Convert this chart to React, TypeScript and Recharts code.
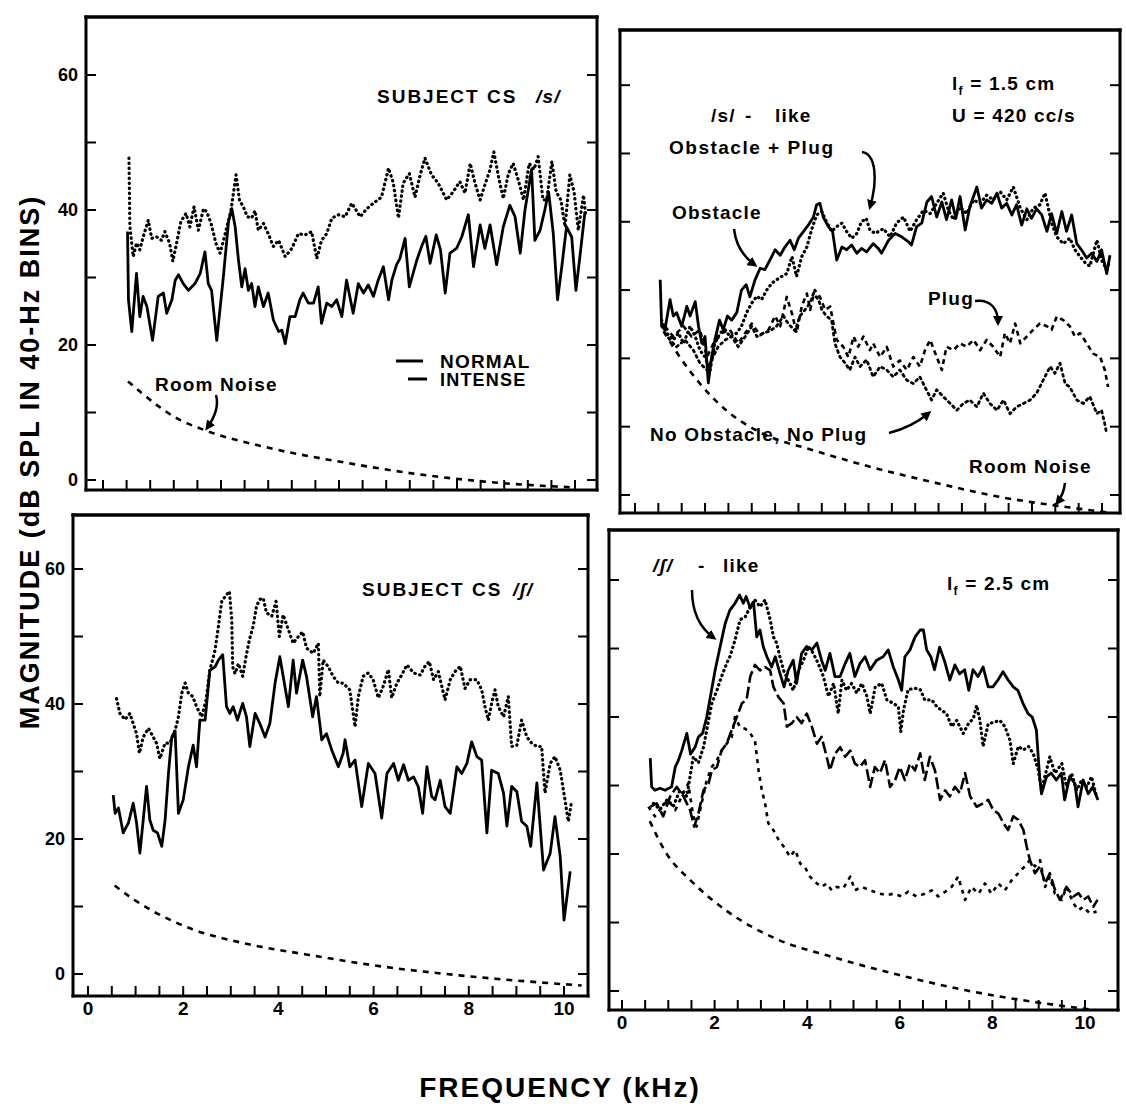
import React from 'react';
import { LineChart, Line, XAxis, YAxis } from 'recharts';

type Pt = [number, number]; // [kHz, dB]

const FREQ_TICKS = [0, 0.5, 1, 1.5, 2, 2.5, 3, 3.5, 4, 4.5, 5, 5.5, 6, 6.5, 7, 7.5, 8, 8.5, 9, 9.5, 10];
const DB_TICKS = [0, 10, 20, 30, 40, 50, 60];

// top left: subject CS /s/
const tlNormal: Pt[] = [
  [0.52, 36.8], [0.54, 26.7], [0.61, 22.0], [0.71, 30.6], [0.78, 24.2], [0.85, 27.2], [0.93, 25.7], [1.05, 20.7],
  [1.17, 27.2], [1.28, 27.7], [1.35, 24.7], [1.46, 26.7], [1.53, 29.6], [1.6, 30.4], [1.7, 29.1], [1.81, 28.1],
  [1.95, 29.1], [2.06, 30.6], [2.16, 33.8], [2.23, 29.1], [2.3, 28.1], [2.41, 20.7], [2.55, 30.1], [2.66, 38.3],
  [2.73, 40.2], [2.8, 37.5], [2.87, 32.6], [2.94, 28.6], [3.01, 31.3], [3.08, 28.1], [3.15, 29.1], [3.22, 25.7],
  [3.29, 28.6], [3.4, 25.7], [3.5, 27.7], [3.61, 23.7], [3.72, 22.0], [3.79, 22.2], [3.86, 20.2], [3.96, 24.2],
  [4.07, 24.2], [4.17, 26.7], [4.24, 27.7], [4.35, 26.2], [4.46, 26.2], [4.56, 28.6], [4.63, 23.2], [4.74, 26.2],
  [4.85, 25.7], [4.95, 26.7], [5.06, 24.2], [5.16, 29.6], [5.3, 24.7], [5.41, 29.1], [5.52, 27.7], [5.62, 28.9],
  [5.73, 27.2], [5.83, 29.6], [5.94, 31.6], [6.05, 26.7], [6.12, 29.6], [6.22, 31.9], [6.29, 32.8], [6.4, 35.8],
  [6.49, 28.6], [6.57, 30.6], [6.65, 32.6], [6.75, 34.6], [6.84, 36.1], [6.93, 32.1], [7.06, 36.3], [7.15, 34.1],
  [7.25, 27.7], [7.35, 33.6], [7.49, 34.3], [7.6, 36.0], [7.74, 39.3], [7.85, 31.6], [7.99, 37.8], [8.09, 34.3],
  [8.2, 37.8], [8.34, 31.9], [8.48, 37.5], [8.62, 40.7], [8.73, 39.0], [8.84, 33.6], [8.94, 40.0], [9.08, 46.0],
  [9.15, 35.5], [9.26, 37.0], [9.36, 40.0], [9.44, 42.7], [9.54, 36.5], [9.63, 26.7], [9.72, 31.6], [9.82, 37.5],
  [9.93, 36.0], [10.02, 28.1], [10.12, 34.1], [10.21, 39.7],
];
const tlIntense: Pt[] = [
  [0.55, 47.7], [0.57, 37.5], [0.64, 33.1], [0.71, 35.1], [0.78, 34.1], [0.85, 36.0], [0.96, 38.5], [1.03, 35.8],
  [1.14, 36.0], [1.24, 35.5], [1.31, 36.8], [1.41, 35.1], [1.48, 32.4], [1.56, 35.1], [1.65, 38.3], [1.76, 39.5],
  [1.84, 37.5], [1.93, 40.5], [2.02, 37.0], [2.13, 40.2], [2.2, 39.7], [2.29, 38.0], [2.39, 35.1], [2.48, 33.6],
  [2.59, 36.5], [2.71, 39.9], [2.82, 45.2], [2.89, 41.5], [2.97, 40.5], [3.06, 39.0], [3.15, 38.8], [3.22, 39.9],
  [3.29, 37.0], [3.4, 38.0], [3.5, 36.5], [3.61, 34.6], [3.72, 35.5], [3.86, 33.1], [4.0, 34.3], [4.14, 36.5],
  [4.28, 36.3], [4.42, 36.8], [4.53, 32.8], [4.63, 35.5], [4.74, 36.5], [4.85, 38.8], [4.99, 39.3], [5.13, 39.0],
  [5.27, 41.0], [5.45, 39.0], [5.59, 40.2], [5.73, 41.0], [5.9, 41.9], [6.05, 46.2], [6.15, 44.0], [6.26, 38.8],
  [6.36, 44.0], [6.49, 45.4], [6.61, 41.9], [6.72, 45.2], [6.82, 47.7], [6.96, 45.2], [7.1, 44.0], [7.28, 41.5],
  [7.42, 42.7], [7.56, 44.2], [7.67, 42.5], [7.78, 46.9], [7.88, 44.0], [7.99, 41.5], [8.09, 43.7], [8.2, 46.0],
  [8.28, 48.6], [8.38, 44.9], [8.48, 41.7], [8.59, 45.4], [8.69, 46.9], [8.8, 44.4], [8.91, 41.5], [9.03, 46.9],
  [9.13, 46.0], [9.22, 47.9], [9.32, 41.5], [9.4, 41.5], [9.51, 47.2], [9.6, 42.7], [9.7, 41.5], [9.79, 37.5],
  [9.89, 45.2], [9.98, 42.7], [10.07, 37.0], [10.18, 42.2], [10.23, 39.0],
];
const tlRoom: Pt[] = [
  [0.53, 14.6], [0.82, 12.9], [1.22, 10.7], [1.63, 8.9], [2.11, 7.5], [3.49, 4.8], [5.11, 2.6], [6.74, 0.8],
  [8.36, -0.4], [9.98, -1.1],
];

// top right: /s/-like model
const trObstacle: Pt[] = [
  [0.54, 31.5], [0.57, 24.7], [0.64, 24.2], [0.75, 28.6], [0.82, 26.2], [0.89, 26.7], [1.0, 24.7], [1.11, 27.6],
  [1.18, 26.2], [1.29, 28.3], [1.36, 24.7], [1.43, 22.2], [1.5, 23.2], [1.57, 16.4], [1.64, 20.2], [1.71, 22.7],
  [1.81, 25.6], [1.89, 24.2], [1.98, 26.2], [2.07, 25.6], [2.18, 26.7], [2.28, 30.0], [2.38, 30.8], [2.46, 29.0],
  [2.57, 31.5], [2.68, 33.2], [2.78, 33.0], [2.89, 34.4], [3.0, 35.9], [3.11, 35.1], [3.21, 36.3], [3.32, 37.3],
  [3.41, 35.9], [3.5, 37.6], [3.61, 38.6], [3.71, 39.5], [3.82, 40.7], [3.89, 42.5], [3.96, 42.7], [4.03, 40.7],
  [4.14, 39.3], [4.23, 38.6], [4.32, 34.4], [4.43, 36.3], [4.53, 35.9], [4.64, 36.6], [4.75, 35.4], [4.85, 36.1],
  [4.96, 35.6], [5.1, 36.8], [5.21, 36.1], [5.28, 35.4], [5.43, 37.3], [5.57, 38.3], [5.71, 37.8], [5.85, 37.1],
  [5.92, 36.6], [6.03, 39.3], [6.14, 39.8], [6.25, 42.9], [6.35, 43.7], [6.46, 40.7], [6.57, 42.9], [6.67, 40.3],
  [6.78, 43.2], [6.87, 40.5], [6.96, 43.7], [7.07, 38.8], [7.17, 42.2], [7.32, 45.1], [7.42, 42.0], [7.53, 43.2],
  [7.64, 42.7], [7.75, 44.2], [7.85, 42.0], [7.96, 42.7], [8.07, 41.0], [8.17, 42.5], [8.28, 39.5], [8.39, 41.9],
  [8.49, 40.5], [8.6, 41.9], [8.71, 41.0], [8.82, 38.6], [8.92, 41.2], [9.03, 38.3], [9.14, 41.5], [9.24, 38.6],
  [9.35, 41.0], [9.46, 36.8], [9.56, 35.9], [9.67, 34.7], [9.78, 35.4], [9.89, 34.2], [9.99, 35.9], [10.1, 32.4],
  [10.17, 35.1],
];
const trObstaclePlug: Pt[] = [
  [0.57, 25.6], [0.68, 23.7], [0.82, 22.7], [0.93, 23.7], [1.04, 22.2], [1.18, 24.7], [1.29, 23.2], [1.39, 21.2],
  [1.5, 20.2], [1.61, 18.3], [1.71, 22.2], [1.82, 23.7], [1.93, 24.2], [2.03, 23.2], [2.18, 23.7], [2.28, 24.7],
  [2.39, 26.7], [2.5, 28.1], [2.61, 29.1], [2.71, 28.6], [2.82, 30.0], [2.93, 31.0], [3.03, 31.5], [3.14, 32.0],
  [3.25, 32.4], [3.36, 34.9], [3.46, 32.0], [3.57, 34.9], [3.68, 36.3], [3.78, 38.8], [3.89, 41.0], [4.0, 41.5],
  [4.1, 40.0], [4.21, 38.6], [4.32, 39.3], [4.43, 39.8], [4.53, 38.6], [4.64, 37.6], [4.75, 38.3], [4.85, 40.0],
  [4.95, 40.5], [5.03, 38.8], [5.14, 38.3], [5.32, 39.0], [5.46, 37.8], [5.6, 39.8], [5.75, 40.7], [5.89, 38.6],
  [6.03, 40.3], [6.18, 41.7], [6.32, 41.2], [6.46, 42.7], [6.6, 44.2], [6.71, 41.7], [6.82, 40.3], [6.96, 42.2],
  [7.1, 41.2], [7.25, 43.2], [7.39, 42.7], [7.53, 43.9], [7.67, 43.2], [7.82, 44.4], [7.96, 43.2], [8.1, 45.1],
  [8.25, 42.0], [8.39, 40.3], [8.53, 42.0], [8.67, 42.5], [8.78, 44.2], [8.92, 39.8], [9.03, 37.8], [9.17, 36.8],
  [9.31, 37.6], [9.42, 35.9], [9.53, 34.9], [9.64, 34.0], [9.74, 33.5], [9.89, 37.3], [9.99, 34.4], [10.1, 33.0],
  [10.17, 34.4],
];
const trPlug: Pt[] = [
  [0.64, 24.7], [0.82, 23.2], [1.04, 24.7], [1.21, 23.2], [1.39, 24.2], [1.54, 20.2], [1.68, 22.2], [1.86, 23.7],
  [2.03, 24.2], [2.21, 22.2], [2.36, 23.7], [2.5, 25.1], [2.68, 23.4], [2.86, 24.2], [3.0, 26.2], [3.11, 24.7],
  [3.25, 29.0], [3.36, 26.6], [3.46, 23.7], [3.57, 27.6], [3.68, 29.5], [3.75, 27.1], [3.85, 30.0], [3.96, 29.0],
  [4.07, 27.1], [4.18, 27.6], [4.25, 25.1], [4.32, 22.7], [4.46, 21.7], [4.57, 20.2], [4.68, 23.2], [4.78, 21.7],
  [4.89, 23.2], [5.03, 21.2], [5.1, 22.2], [5.25, 20.2], [5.39, 21.7], [5.53, 18.8], [5.67, 19.7], [5.82, 18.3],
  [5.96, 20.2], [6.1, 18.8], [6.21, 21.2], [6.32, 22.7], [6.46, 20.2], [6.57, 18.3], [6.67, 21.7], [6.82, 21.2],
  [6.96, 22.2], [7.1, 21.7], [7.25, 22.7], [7.39, 21.2], [7.53, 22.7], [7.67, 21.7], [7.82, 20.2], [7.92, 23.7],
  [8.03, 22.2], [8.14, 25.1], [8.25, 22.2], [8.39, 23.2], [8.53, 24.2], [8.67, 25.1], [8.82, 24.7], [8.92, 24.2],
  [9.03, 26.1], [9.17, 25.6], [9.31, 24.7], [9.42, 23.2], [9.53, 23.7], [9.67, 22.2], [9.81, 20.7], [9.96, 20.2],
  [10.06, 18.3], [10.13, 15.8],
];
const trNoObstacle: Pt[] = [
  [0.64, 23.7], [0.75, 22.7], [0.89, 21.7], [1.07, 22.7], [1.25, 21.2], [1.39, 19.3], [1.54, 18.3], [1.64, 19.8],
  [1.78, 21.7], [1.93, 22.7], [2.07, 23.2], [2.21, 21.7], [2.36, 23.2], [2.5, 24.7], [2.61, 23.2], [2.75, 23.7],
  [2.89, 24.0], [3.03, 24.7], [3.18, 26.2], [3.28, 25.1], [3.43, 24.0], [3.53, 26.2], [3.64, 27.1], [3.75, 28.1],
  [3.82, 29.5], [3.93, 28.6], [4.0, 27.1], [4.1, 26.2], [4.21, 25.6], [4.28, 22.2], [4.39, 20.2], [4.5, 19.3],
  [4.6, 18.3], [4.71, 20.2], [4.82, 18.8], [4.96, 19.8], [5.1, 17.3], [5.25, 18.8], [5.39, 18.3], [5.53, 17.3],
  [5.67, 18.3], [5.82, 16.8], [5.96, 16.3], [6.1, 17.3], [6.21, 15.8], [6.35, 13.9], [6.46, 15.4], [6.6, 14.4],
  [6.75, 13.4], [6.89, 12.4], [7.03, 13.4], [7.17, 13.9], [7.32, 12.9], [7.46, 14.9], [7.6, 13.4], [7.75, 12.4],
  [7.89, 13.9], [8.03, 11.9], [8.17, 12.9], [8.32, 13.4], [8.46, 13.9], [8.6, 14.9], [8.74, 16.8], [8.89, 18.8],
  [8.99, 17.8], [9.1, 19.3], [9.21, 16.3], [9.31, 15.8], [9.46, 13.9], [9.6, 13.4], [9.74, 14.4], [9.89, 11.9],
  [9.99, 12.4], [10.06, 10.4], [10.1, 8.9],
];
const trRoom: Pt[] = [
  [0.61, 24.0], [0.94, 20.4], [1.38, 16.4], [1.97, 12.3], [2.7, 9.1], [3.79, 6.6], [4.89, 4.4], [6.36, 1.9],
  [7.82, -0.3], [9.28, -1.8], [10.16, -2.6],
];

// bottom left: subject CS /ʃ/
const blNormal: Pt[] = [
  [0.53, 26.5], [0.57, 23.8], [0.64, 24.6], [0.74, 20.9], [0.85, 22.4], [0.95, 25.3], [1.02, 22.4], [1.09, 17.9],
  [1.16, 22.8], [1.23, 27.8], [1.3, 22.8], [1.37, 21.3], [1.46, 20.9], [1.55, 18.9], [1.62, 22.8], [1.69, 29.7],
  [1.76, 35.1], [1.83, 36.0], [1.9, 23.8], [2.0, 25.8], [2.11, 30.7], [2.21, 33.9], [2.28, 30.7], [2.35, 37.6],
  [2.46, 37.6], [2.56, 45.0], [2.67, 45.5], [2.74, 46.5], [2.83, 47.3], [2.91, 39.6], [2.98, 38.6], [3.05, 39.6],
  [3.14, 37.6], [3.25, 40.1], [3.33, 38.1], [3.4, 33.7], [3.51, 38.6], [3.61, 37.1], [3.72, 35.1], [3.82, 37.1],
  [3.93, 43.1], [4.03, 47.0], [4.1, 44.1], [4.21, 39.6], [4.31, 46.5], [4.38, 41.6], [4.51, 46.5], [4.59, 44.1],
  [4.72, 38.1], [4.8, 41.1], [4.91, 34.7], [5.01, 35.6], [5.12, 33.2], [5.26, 30.7], [5.36, 32.7], [5.4, 34.7],
  [5.5, 30.7], [5.61, 31.7], [5.75, 24.8], [5.89, 31.2], [6.03, 29.7], [6.17, 23.1], [6.28, 29.7], [6.42, 31.2],
  [6.52, 28.7], [6.63, 31.0], [6.73, 28.7], [6.84, 29.2], [6.94, 27.7], [7.03, 23.8], [7.12, 30.7], [7.22, 26.3],
  [7.29, 25.8], [7.4, 28.7], [7.5, 24.8], [7.61, 23.8], [7.75, 30.7], [7.85, 29.7], [7.96, 31.2], [8.06, 34.4],
  [8.17, 32.2], [8.27, 31.7], [8.38, 20.9], [8.48, 30.2], [8.62, 29.7], [8.73, 26.8], [8.8, 21.9], [8.9, 27.8],
  [9.01, 27.0], [9.11, 22.6], [9.22, 21.9], [9.3, 18.9], [9.43, 28.3], [9.57, 15.4], [9.71, 17.9], [9.81, 23.3],
  [9.92, 17.4], [10.0, 8.0], [10.13, 15.2],
];
const blIntense: Pt[] = [
  [0.6, 40.8], [0.67, 38.6], [0.78, 37.7], [0.88, 38.6], [0.95, 37.1], [1.02, 35.6], [1.08, 32.7], [1.16, 35.1],
  [1.27, 36.4], [1.37, 35.1], [1.44, 34.2], [1.51, 31.9], [1.62, 34.2], [1.72, 34.2], [1.83, 36.1], [1.9, 38.1],
  [1.97, 41.6], [2.04, 43.1], [2.11, 41.6], [2.2, 41.1], [2.28, 39.6], [2.39, 38.1], [2.48, 40.6], [2.56, 45.0],
  [2.67, 48.0], [2.74, 51.5], [2.81, 55.2], [2.88, 55.9], [2.97, 56.7], [3.02, 52.5], [3.04, 45.5], [3.09, 44.5],
  [3.16, 46.0], [3.25, 44.1], [3.32, 47.0], [3.39, 49.5], [3.47, 51.5], [3.54, 54.5], [3.61, 55.5], [3.68, 55.7],
  [3.75, 53.5], [3.86, 53.0], [3.95, 55.2], [4.02, 50.0], [4.1, 53.2], [4.21, 51.0], [4.31, 49.0], [4.42, 50.0],
  [4.51, 50.7], [4.59, 48.3], [4.73, 47.5], [4.84, 49.0], [4.87, 41.1], [4.94, 46.5], [5.05, 45.5], [5.15, 44.1],
  [5.26, 43.1], [5.36, 43.1], [5.5, 42.1], [5.61, 36.6], [5.68, 41.1], [5.78, 44.1], [5.89, 44.6], [5.99, 43.6],
  [6.1, 40.9], [6.2, 42.6], [6.31, 45.1], [6.38, 40.9], [6.49, 43.1], [6.59, 44.3], [6.7, 45.8], [6.84, 44.6],
  [6.98, 44.3], [7.08, 45.6], [7.17, 46.3], [7.26, 43.6], [7.36, 44.8], [7.5, 40.6], [7.61, 43.6], [7.71, 44.8],
  [7.82, 45.6], [7.92, 42.3], [8.03, 43.6], [8.17, 43.6], [8.27, 42.1], [8.34, 39.6], [8.41, 37.6], [8.48, 40.1],
  [8.55, 42.1], [8.62, 39.6], [8.73, 38.1], [8.83, 41.1], [8.9, 33.7], [9.01, 33.9], [9.11, 37.6], [9.22, 35.1],
  [9.32, 34.2], [9.43, 33.7], [9.53, 33.7], [9.6, 26.8], [9.71, 31.2], [9.81, 32.2], [9.92, 30.2], [10.02, 25.8],
  [10.09, 22.6], [10.16, 25.6],
];
const blRoom: Pt[] = [
  [0.56, 13.1], [0.97, 11.0], [1.37, 9.3], [2.17, 6.7], [3.38, 4.4], [4.58, 2.9], [6.19, 1.1], [7.8, -0.2],
  [9.41, -1.2], [10.37, -1.7],
];

// bottom right: /ʃ/-like model, four conditions
const brTop: Pt[] = [
  [0.61, 34.0], [0.64, 29.8], [0.71, 29.3], [0.82, 29.6], [0.93, 29.3], [1.07, 29.8], [1.15, 32.7], [1.22, 33.7],
  [1.29, 35.1], [1.4, 37.6], [1.48, 34.6], [1.58, 35.6], [1.65, 37.1], [1.74, 37.6], [1.83, 40.0], [1.92, 43.4],
  [2.01, 46.8], [2.12, 50.3], [2.23, 53.7], [2.33, 55.6], [2.44, 56.6], [2.54, 57.8], [2.62, 56.6], [2.68, 57.6],
  [2.77, 55.9], [2.84, 56.8], [2.91, 51.7], [2.98, 52.7], [3.05, 50.3], [3.13, 48.8], [3.23, 47.3], [3.31, 48.8],
  [3.41, 46.4], [3.5, 44.4], [3.59, 46.8], [3.7, 48.3], [3.77, 44.9], [3.88, 49.3], [3.99, 50.3], [4.1, 49.8],
  [4.21, 50.8], [4.31, 48.3], [4.39, 46.8], [4.49, 49.3], [4.6, 45.9], [4.71, 45.9], [4.82, 47.8], [4.92, 49.3],
  [5.03, 45.9], [5.14, 47.8], [5.25, 48.8], [5.36, 46.9], [5.5, 48.3], [5.64, 48.8], [5.75, 49.8], [5.86, 47.3],
  [5.97, 45.4], [6.04, 43.9], [6.11, 48.8], [6.22, 49.8], [6.33, 51.7], [6.44, 52.7], [6.51, 52.7], [6.58, 49.8],
  [6.67, 48.8], [6.75, 46.9], [6.86, 50.2], [6.97, 48.1], [7.08, 45.4], [7.19, 47.6], [7.29, 46.3], [7.4, 46.9],
  [7.49, 43.9], [7.58, 46.9], [7.69, 45.9], [7.8, 47.3], [7.91, 44.4], [8.01, 44.4], [8.12, 45.4], [8.23, 46.6],
  [8.34, 45.4], [8.45, 44.4], [8.55, 43.9], [8.66, 42.0], [8.77, 40.5], [8.86, 40.0], [8.95, 38.1], [8.99, 34.2],
  [9.02, 31.3], [9.06, 28.8], [9.17, 31.3], [9.27, 31.8], [9.38, 30.8], [9.49, 31.8], [9.56, 27.9], [9.67, 31.3],
  [9.78, 30.3], [9.85, 26.9], [9.96, 30.8], [10.07, 28.8], [10.17, 29.8], [10.28, 27.9],
];
const brDotted: Pt[] = [
  [0.68, 27.4], [0.82, 26.5], [0.97, 27.9], [1.11, 27.0], [1.25, 29.3], [1.4, 28.4], [1.54, 34.2], [1.65, 33.3],
  [1.76, 35.6], [1.83, 38.1], [1.94, 42.0], [2.05, 43.9], [2.15, 45.9], [2.26, 47.8], [2.33, 48.8], [2.44, 51.2],
  [2.55, 54.2], [2.66, 54.6], [2.77, 56.1], [2.87, 57.1], [2.98, 56.1], [3.09, 57.1], [3.2, 54.2], [3.27, 51.7],
  [3.34, 50.8], [3.41, 48.8], [3.49, 46.8], [3.59, 45.4], [3.7, 43.9], [3.81, 46.8], [3.92, 48.3], [4.03, 50.3],
  [4.13, 49.3], [4.24, 47.8], [4.35, 45.9], [4.46, 43.0], [4.57, 44.9], [4.67, 40.5], [4.75, 45.4], [4.85, 43.9],
  [4.96, 44.9], [5.07, 43.5], [5.18, 44.9], [5.29, 43.0], [5.36, 40.5], [5.47, 44.4], [5.61, 44.9], [5.72, 42.5],
  [5.86, 42.0], [5.97, 41.5], [6.02, 37.8], [6.08, 41.0], [6.18, 44.0], [6.33, 44.2], [6.44, 44.0], [6.54, 42.5],
  [6.69, 42.5], [6.8, 41.5], [6.9, 41.0], [7.01, 40.5], [7.12, 38.6], [7.23, 39.5], [7.37, 37.6], [7.48, 39.0],
  [7.59, 39.8], [7.66, 41.7], [7.73, 39.5], [7.8, 35.7], [7.91, 39.0], [8.06, 39.3], [8.16, 39.5], [8.27, 38.6],
  [8.38, 36.6], [8.45, 33.2], [8.56, 35.7], [8.67, 35.2], [8.78, 35.7], [8.88, 34.7], [8.99, 32.3], [9.06, 29.3],
  [9.17, 32.3], [9.24, 34.2], [9.35, 31.8], [9.5, 33.2], [9.6, 29.8], [9.71, 31.8], [9.82, 29.3], [9.93, 30.8],
  [10.04, 29.8], [10.14, 31.3], [10.25, 28.4],
];
const brDashed: Pt[] = [
  [0.61, 26.9], [0.75, 27.4], [0.89, 25.5], [1.04, 28.4], [1.18, 29.8], [1.33, 28.4], [1.47, 26.4], [1.56, 24.0],
  [1.65, 25.9], [1.76, 29.3], [1.87, 30.3], [1.94, 32.2], [2.05, 32.7], [2.15, 35.1], [2.26, 36.1], [2.37, 38.1],
  [2.48, 40.0], [2.59, 42.0], [2.69, 42.5], [2.77, 45.9], [2.87, 47.6], [2.98, 46.8], [3.09, 47.3], [3.2, 46.8],
  [3.27, 44.4], [3.38, 42.9], [3.49, 42.0], [3.56, 38.6], [3.67, 39.1], [3.77, 40.0], [3.88, 39.1], [3.99, 40.5],
  [4.1, 38.6], [4.21, 36.1], [4.31, 37.1], [4.42, 34.2], [4.49, 32.2], [4.6, 34.6], [4.71, 35.6], [4.82, 34.2],
  [4.93, 35.1], [5.03, 33.2], [5.14, 32.7], [5.25, 33.7], [5.36, 29.8], [5.46, 32.7], [5.57, 31.8], [5.68, 33.7],
  [5.79, 29.8], [5.9, 30.8], [6.0, 32.7], [6.11, 30.8], [6.22, 33.2], [6.33, 32.2], [6.44, 34.7], [6.54, 30.8],
  [6.65, 34.2], [6.76, 32.2], [6.87, 27.9], [6.98, 29.3], [7.08, 28.4], [7.19, 29.8], [7.3, 28.9], [7.41, 31.8],
  [7.52, 28.4], [7.66, 26.9], [7.8, 27.4], [7.91, 27.9], [8.02, 26.4], [8.13, 25.9], [8.24, 24.5], [8.34, 23.5],
  [8.45, 25.5], [8.56, 25.0], [8.67, 23.5], [8.74, 21.1], [8.81, 19.1], [8.92, 17.2], [9.03, 18.2], [9.14, 15.7],
  [9.24, 17.2], [9.35, 14.8], [9.46, 13.3], [9.6, 15.2], [9.75, 13.8], [9.86, 14.3], [9.96, 13.3], [10.07, 13.8],
  [10.18, 12.3], [10.27, 13.3],
];
const brShortDash: Pt[] = [
  [0.57, 26.9], [0.71, 25.5], [0.86, 26.9], [1.0, 27.9], [1.15, 26.4], [1.29, 28.4], [1.43, 30.3], [1.54, 25.5],
  [1.61, 24.0], [1.72, 27.4], [1.83, 30.8], [1.94, 32.7], [2.05, 33.7], [2.15, 35.1], [2.26, 36.1], [2.37, 37.1],
  [2.44, 40.0], [2.55, 38.5], [2.66, 38.3], [2.77, 37.6], [2.87, 36.6], [2.95, 32.2], [3.02, 29.3], [3.09, 27.4],
  [3.16, 24.5], [3.27, 23.5], [3.38, 22.1], [3.49, 21.1], [3.63, 19.6], [3.74, 20.6], [3.85, 18.6], [3.95, 18.1],
  [4.06, 16.7], [4.21, 15.7], [4.31, 15.2], [4.42, 15.7], [4.53, 14.7], [4.64, 15.2], [4.78, 15.0], [4.93, 16.7],
  [5.03, 14.7], [5.18, 15.2], [5.36, 14.7], [5.57, 14.2], [5.72, 14.0], [5.86, 14.2], [6.04, 13.8], [6.18, 14.5],
  [6.36, 13.8], [6.54, 14.2], [6.69, 14.7], [6.83, 13.8], [6.98, 14.5], [7.12, 15.2], [7.26, 16.7], [7.41, 13.3],
  [7.55, 15.2], [7.7, 14.2], [7.84, 15.7], [7.98, 14.2], [8.13, 15.7], [8.27, 14.7], [8.42, 16.2], [8.56, 17.2],
  [8.7, 18.2], [8.81, 19.1], [8.92, 18.2], [9.03, 19.1], [9.14, 15.2], [9.24, 16.7], [9.35, 14.2], [9.5, 13.3],
  [9.6, 15.2], [9.75, 12.8], [9.86, 11.8], [9.96, 12.3], [10.11, 11.3], [10.25, 11.6],
];
const brRoom: Pt[] = [
  [0.6, 24.8], [0.93, 20.4], [1.52, 15.9], [2.26, 11.7], [3.37, 7.5], [4.48, 5.1], [5.95, 2.4], [7.43, 0.1],
  [8.91, -1.6], [10.24, -2.8],
];

const FONT = '"Liberation Sans", Arial, Helvetica, "DejaVu Sans", sans-serif';
const TICK_PX = 10;

interface Trace {
  pts: Pt[];
  width: number;
  dash?: string;
  round?: boolean;
  smooth?: boolean;
}

interface Frame {
  left: number;
  top: number;
  width: number;
  height: number;
}

interface PanelProps {
  frame: Frame;
  xDomain: [number, number];
  yDomain: [number, number];
  traces: Trace[];
  showX?: boolean;
  showY?: boolean;
}

const axisLine = { stroke: '#000', strokeWidth: 3, strokeLinecap: 'square' as const };
const labelFont = { fill: '#000', fontWeight: 700, fontFamily: FONT };

// frequency ticks: up into the frame from the bottom edge ('up'), or down into it from the top edge ('down')
function freqTick(dir: 'up' | 'down', labelled: boolean) {
  return (props: any) => {
    const { x, y, payload } = props;
    const v = payload.value as number;
    const y2 = dir === 'up' ? y - TICK_PX : y + TICK_PX;
    return (
      <g>
        <line x1={x} y1={y} x2={x} y2={y2} stroke="#000" strokeWidth={2} />
        {labelled && v % 2 === 0 && (
          <text x={x} y={y + 5} dy="0.72em" textAnchor="middle" fontSize={19} {...labelFont}>
            {v}
          </text>
        )}
      </g>
    );
  };
}

function dbTick(side: 'left' | 'right', labelled: boolean) {
  return (props: any) => {
    const { x, y, payload } = props;
    const v = payload.value as number;
    const dx = side === 'left' ? TICK_PX : -TICK_PX;
    return (
      <g>
        <line x1={x} y1={y} x2={x + dx} y2={y} stroke="#000" strokeWidth={2} />
        {labelled && side === 'left' && v % 20 === 0 && (
          <text x={x - 8} y={y} dy="0.36em" textAnchor="end" fontSize={18} {...labelFont}>
            {v}
          </text>
        )}
      </g>
    );
  };
}

const solid = (pts: Pt[]): Trace => ({ pts, width: 2.8 });
const dotted = (pts: Pt[]): Trace => ({ pts, width: 3.2, dash: '0.5 4.5', round: true });
const room = (pts: Pt[]): Trace => ({ pts, width: 2.6, dash: '6 6', smooth: true });

const axisCommon = {
  type: 'number' as const,
  allowDataOverflow: true,
  interval: 0 as const,
  tickSize: 0,
  tickMargin: 0,
  tickLine: false,
  axisLine,
};

// the top edge of a panel: a thin strip whose bottom axis sits on the panel's upper border
function TopEdge({ frame, xDomain }: { frame: Frame; xDomain: [number, number] }) {
  return (
    <div style={{ position: 'absolute', left: frame.left - 60, top: frame.top - 10 }}>
      <LineChart width={frame.width + 70} height={50} margin={{ top: 0, right: 10, bottom: 0, left: 60 }}>
        <XAxis {...axisCommon} domain={xDomain} ticks={FREQ_TICKS} height={40} tick={freqTick('down', false)} />
        <YAxis hide domain={[0, 1]} />
      </LineChart>
    </div>
  );
}

function Panel({ frame, xDomain, yDomain, traces, showX, showY }: PanelProps) {
  return (
    <>
      <div style={{ position: 'absolute', left: frame.left - 60, top: frame.top - 10 }}>
        <LineChart
          width={frame.width + 70}
          height={frame.height + 50}
          margin={{ top: 0, right: 0, bottom: 0, left: 20 }}
        >
          <XAxis {...axisCommon} xAxisId="b" dataKey="f" domain={xDomain} ticks={FREQ_TICKS} height={40}
            tick={freqTick('up', !!showX)} />
          <XAxis {...axisCommon} xAxisId="t" orientation="top" dataKey="f" domain={xDomain} ticks={FREQ_TICKS}
            height={10} tick={false} />
          <YAxis {...axisCommon} yAxisId="l" domain={yDomain} ticks={DB_TICKS} width={40}
            tick={dbTick('left', !!showY)} />
          <YAxis {...axisCommon} yAxisId="r" orientation="right" domain={yDomain} ticks={DB_TICKS} width={10}
            tick={dbTick('right', false)} />
          {traces.map((t, i) => (
            <Line
              key={i}
              xAxisId="b"
              yAxisId="l"
              data={t.pts.map(([f, v]) => ({ f, v }))}
              dataKey="v"
              type={t.smooth ? 'monotone' : 'linear'}
              stroke="#000"
              strokeWidth={t.width}
              strokeDasharray={t.dash}
              strokeLinecap={t.round ? 'round' : 'butt'}
              strokeLinejoin="round"
              dot={false}
              activeDot={false}
              isAnimationActive={false}
            />
          ))}
        </LineChart>
      </div>
      <TopEdge frame={frame} xDomain={xDomain} />
    </>
  );
}

const txt = { fontFamily: FONT, fontWeight: 700, fontSize: 19, letterSpacing: 1.2, fill: '#000' };
const arrow = { fill: 'none', stroke: '#000', strokeWidth: 2.5, markerEnd: 'url(#ah)' };

function Annotations() {
  return (
    <svg
      width={1126}
      height={1104}
      style={{ position: 'absolute', left: 0, top: 0, pointerEvents: 'none' }}
    >
      <defs>
        <marker id="ah" viewBox="0 0 10 10" refX="7" refY="5" markerWidth="4" markerHeight="4" orient="auto">
          <path d="M0,0 L10,5 L0,10 z" fill="#000" />
        </marker>
      </defs>

      {/* top left */}
      <text x={377} y={103} {...txt} letterSpacing={2}>SUBJECT CS</text>
      <text x={536} y={103} {...txt} fontStyle="italic">/s/</text>
      <line x1={396} y1={361} x2={423} y2={361} stroke="#000" strokeWidth={3} />
      <text x={440} y={368} {...txt}>NORMAL</text>
      <line x1={408} y1={379} x2={427} y2={379} stroke="#000" strokeWidth={3} />
      <text x={440} y={386} {...txt} fontSize={18}>INTENSE</text>
      <text x={155} y={391} {...txt}>Room Noise</text>
      <path d="M216,395 C219,406 215,417 207,428" {...arrow} />

      {/* top right */}
      <text x={952} y={90} {...txt}>
        l<tspan fontSize={12} dy={5}>f</tspan>
        <tspan dy={-5}> = 1.5 cm</tspan>
      </text>
      <text x={952} y={122} {...txt}>U = 420 cc/s</text>
      <text x={711} y={122} {...txt}>/s/</text>
      <text x={745} y={122} {...txt}>-</text>
      <text x={775} y={122} {...txt}>like</text>
      <text x={669} y={154} {...txt} letterSpacing={1.5}>Obstacle + Plug</text>
      <path d="M862,152 C876,154 878,180 870,207" {...arrow} />
      <text x={672} y={219} {...txt}>Obstacle</text>
      <path d="M734,229 C736,246 745,258 755,265" {...arrow} />
      <text x={928} y={305} {...txt}>Plug</text>
      <path d="M975,301 C991,299 998,309 998,323" {...arrow} />
      <text x={650} y={441} {...txt}>No Obstacle, No Plug</text>
      <path d="M889,433 C905,429 918,422 929,413" {...arrow} />
      <text x={969} y={473} {...txt}>Room Noise</text>
      <path d="M1065,483 C1064,492 1061,498 1057,503" {...arrow} />

      {/* bottom left */}
      <text x={362} y={596} {...txt} letterSpacing={2}>SUBJECT CS</text>
      <text x={513} y={596} {...txt} fontStyle="italic">/ʃ/</text>

      {/* bottom right */}
      <text x={653} y={572} {...txt} fontStyle="italic">/ʃ/</text>
      <text x={698} y={572} {...txt}>-</text>
      <text x={723} y={572} {...txt}>like</text>
      <path d="M692,590 C692,612 700,628 714,638" {...arrow} />
      <text x={947} y={590} {...txt}>
        l<tspan fontSize={12} dy={5}>f</tspan>
        <tspan dy={-5}> = 2.5 cm</tspan>
      </text>

      {/* axis titles */}
      <text
        transform="translate(30,462) rotate(-90)"
        textAnchor="middle"
        dominantBaseline="central"
        {...txt}
        fontSize={27}
        letterSpacing={2}
      >
        MAGNITUDE (dB SPL IN 40-Hz BINS)
      </text>
      <text x={560} y={1097} textAnchor="middle" {...txt} fontSize={28} letterSpacing={2}>
        FREQUENCY (kHz)
      </text>
    </svg>
  );
}

export default function App() {
  return (
    <div style={{ position: 'absolute', left: 0, top: 0, width: 1126, height: 1104, background: '#fff' }}>
      <Panel
        frame={{ left: 86, top: 17, width: 511, height: 473 }}
        xDomain={[-0.36, 10.466]}
        yDomain={[-1.48, 68.59]}
        showY
        traces={[solid(tlNormal), dotted(tlIntense), room(tlRoom)]}
      />
      <Panel
        frame={{ left: 620, top: 30, width: 500, height: 483 }}
        xDomain={[-0.321, 10.385]}
        yDomain={[-2.64, 68.08]}
        traces={[
          solid(trObstacle),
          dotted(trObstaclePlug),
          { pts: trPlug, width: 2.6, dash: '5 4' },
          { pts: trNoObstacle, width: 2.8, dash: '2 4', round: true },
          room(trRoom),
        ]}
      />
      <Panel
        frame={{ left: 73, top: 515, width: 515, height: 481 }}
        xDomain={[-0.315, 10.504]}
        yDomain={[-3.26, 68.0]}
        showX
        showY
        traces={[solid(blNormal), dotted(blIntense), room(blRoom)]}
      />
      <Panel
        frame={{ left: 609, top: 530, width: 509, height: 480 }}
        xDomain={[-0.281, 10.713]}
        yDomain={[-2.77, 67.3]}
        showX
        traces={[
          solid(brTop),
          dotted(brDotted),
          { pts: brDashed, width: 2.6, dash: '12 4' },
          { pts: brShortDash, width: 2.6, dash: '4 5' },
          room(brRoom),
        ]}
      />
      <Annotations />
    </div>
  );
}
